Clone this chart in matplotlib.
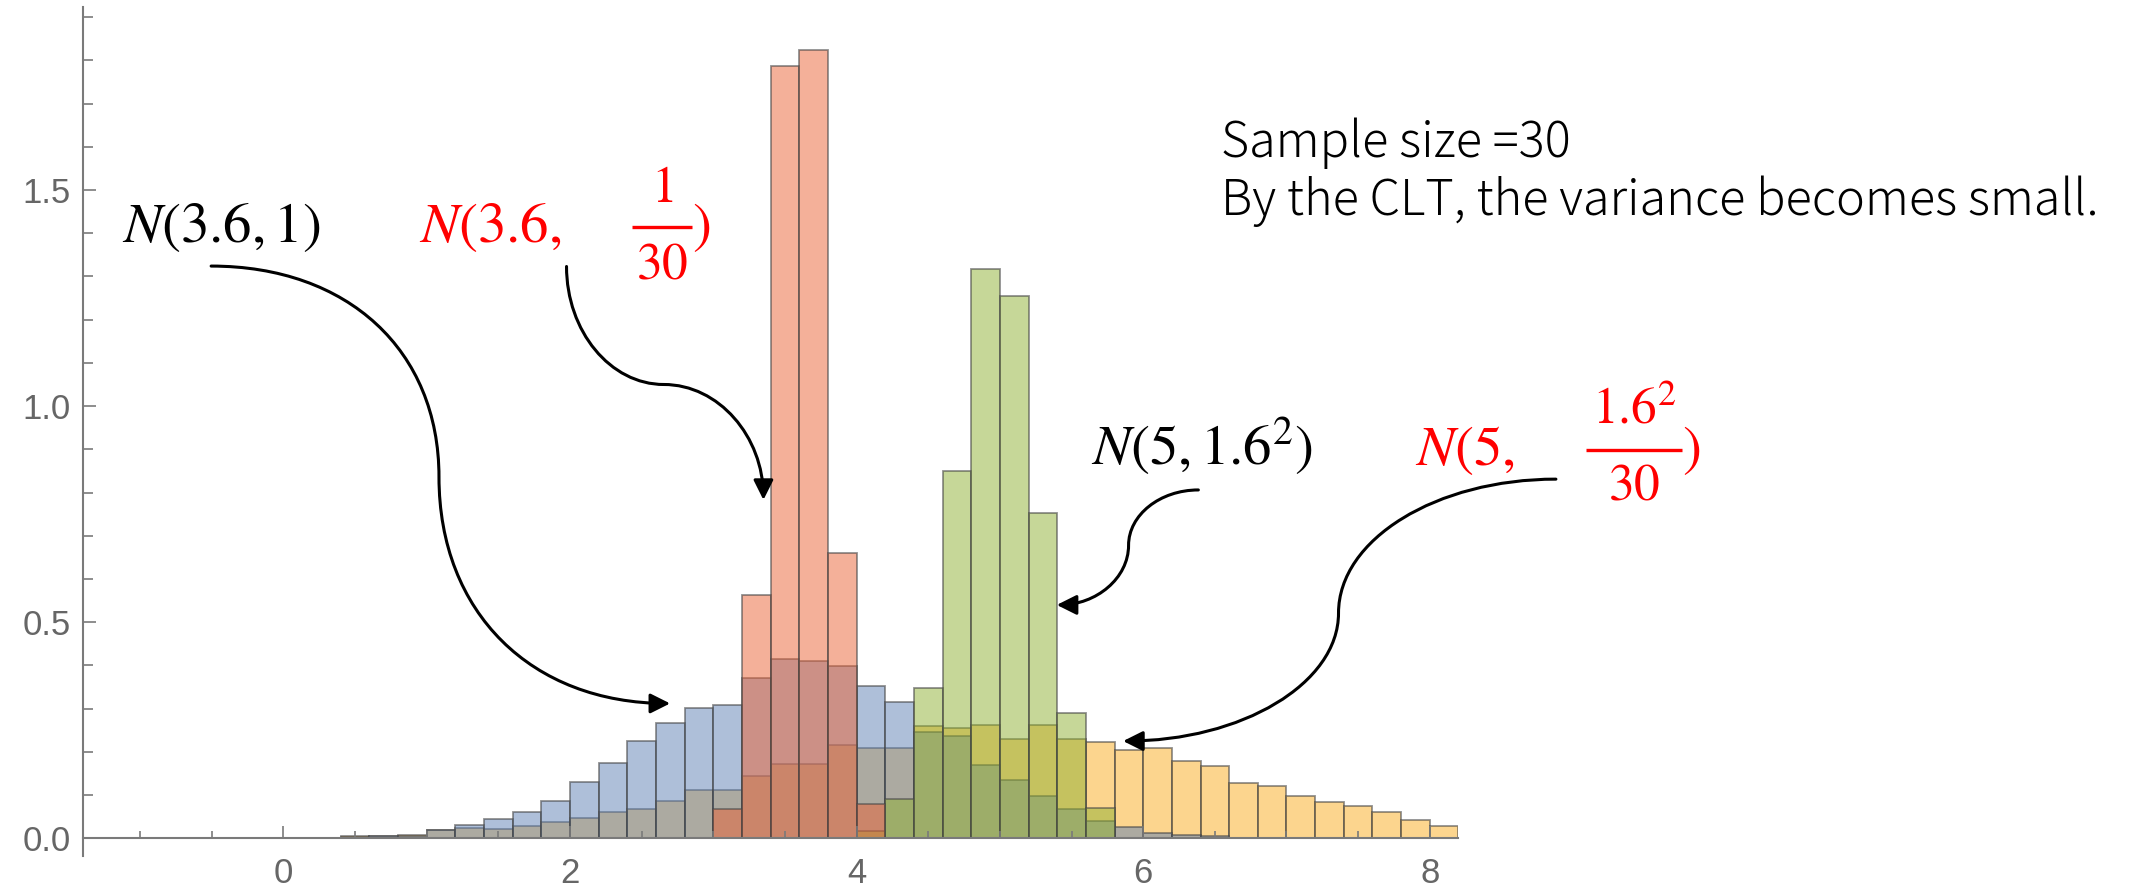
import numpy as np
import matplotlib
matplotlib.use("Agg")
import matplotlib.pyplot as plt
from matplotlib.patches import FancyArrowPatch, ArrowStyle
from matplotlib.path import Path
from matplotlib.ticker import FixedLocator

BIN = 0.2

# density histograms (bin width 0.2), heights listed from the first bin edge
yellow_start = 0.4   # N(5, 1.6^2) samples
yellow_h = [0.005, 0.006, 0.008, 0.019, 0.024, 0.021, 0.029, 0.037, 0.048, 0.060,
            0.068, 0.087, 0.111, 0.111, 0.143, 0.173, 0.173, 0.217, 0.208, 0.208,
            0.260, 0.256, 0.261, 0.230, 0.261, 0.229, 0.222, 0.205, 0.209, 0.178,
            0.167, 0.129, 0.122, 0.097, 0.085, 0.074, 0.062, 0.043, 0.029]
blue_start = 0.4     # N(3.6, 1) samples
blue_h = [0.004, 0.005, 0.006, 0.019, 0.031, 0.044, 0.062, 0.087, 0.131, 0.174,
          0.224, 0.266, 0.302, 0.309, 0.372, 0.415, 0.411, 0.398, 0.353, 0.316,
          0.245, 0.236, 0.169, 0.136, 0.098, 0.067, 0.039, 0.025, 0.012, 0.008,
          0.005]
green_start = 4.0    # sample means, n = 30
green_h = [0.016, 0.091, 0.347, 0.851, 1.317, 1.254, 0.753, 0.291, 0.070]
red_start = 3.0      # sample means, n = 30
red_h = [0.068, 0.564, 1.786, 1.824, 0.660, 0.080]

x_major = [0, 2, 4, 6, 8]
x_minor = [-1, -0.5, 0.5, 1, 1.5, 2.5, 3, 3.5, 4.5, 5, 5.5, 6.5, 7, 7.5]
y_major = [0.0, 0.5, 1.0, 1.5]
y_labels = ["0.0", "0.5", "1.0", "1.5"]
y_minor = [0.1, 0.2, 0.3, 0.4, 0.6, 0.7, 0.8, 0.9, 1.1, 1.2, 1.3, 1.4, 1.6, 1.7, 1.8, 1.9]

YELLOW = (251 / 255, 173 / 255, 31 / 255)
BLUE = (94 / 255, 129 / 255, 181 / 255)
GREEN = (143 / 255, 176 / 255, 50 / 255)
RED = (235 / 255, 98 / 255, 53 / 255)
EDGE = (0.28, 0.28, 0.28, 0.6)
AXIS = "#7a7a7a"
MAIN_FS = 41
FRAC_FS = 37

plt.rcParams["mathtext.fontset"] = "stix"

fig = plt.figure(figsize=(21.37, 8.89), dpi=100)
ax = fig.add_axes([0.03898, 0.0371, 0.6435, 0.9553])
ax.set_xlim(-1.396, 8.2)
ax.set_ylim(-0.041, 1.924)


def hist(start, heights, rgb, z):
    lefts = start + BIN * np.arange(len(heights))
    ax.bar(lefts, heights, width=BIN, align="edge", color=rgb + (0.5,),
           edgecolor=EDGE, linewidth=1.3, zorder=z)


hist(yellow_start, yellow_h, YELLOW, 1)
hist(blue_start, blue_h, BLUE, 1.1)
hist(green_start, green_h, GREEN, 1.2)
hist(red_start, red_h, RED, 1.3)

# axes: origin at (xmin, 0), ticks pointing inward
for s in ["top", "right"]:
    ax.spines[s].set_visible(False)
ax.spines["bottom"].set_position(("data", 0))
for s in ["left", "bottom"]:
    ax.spines[s].set_color(AXIS)
    ax.spines[s].set_linewidth(1.5)
    ax.spines[s].set_zorder(3)

ax.xaxis.set_major_locator(FixedLocator(x_major))
ax.xaxis.set_minor_locator(FixedLocator(x_minor))
ax.yaxis.set_major_locator(FixedLocator(y_major))
ax.yaxis.set_minor_locator(FixedLocator(y_minor))
ax.set_yticklabels(y_labels)

ax.tick_params(axis="both", which="both", direction="in", color=AXIS, width=1.2,
               labelsize=25, labelcolor="#666666")
ax.tick_params(axis="x", which="major", length=8.5, pad=13.5)
ax.tick_params(axis="x", which="minor", length=5)
ax.tick_params(axis="y", which="major", length=9.5, pad=9)
ax.tick_params(axis="y", which="minor", length=7)
for lab in ax.get_xticklabels() + ax.get_yticklabels():
    lab.set_fontfamily("Liberation Sans")


def label(x, y, s, color):
    ax.text(x, y, s, fontsize=MAIN_FS, color=color, ha="left", va="baseline",
            clip_on=False, zorder=5)


def frac_label(x, y, head, num, den, bar, bar_y, num_y, den_y, color):
    # head text, stacked fraction with its own bar, then the closing paren
    label(x, y, head, color)
    xc = 0.5 * (bar[0] + bar[1])
    ax.text(xc, num_y, num, fontsize=FRAC_FS, color=color, ha="center",
            va="baseline", clip_on=False, zorder=5)
    ax.text(xc, den_y, den, fontsize=FRAC_FS, color=color, ha="center",
            va="baseline", clip_on=False, zorder=5)
    ax.plot(bar, [bar_y, bar_y], color=color, lw=2.4, solid_capstyle="butt",
            clip_on=False, zorder=5)
    label(bar[1], y, r"$)$", color)


label(-1.128, 1.380, r"$N(3.6,1)$", "black")
label(5.637, 0.864, r"$N(5,1.6^2)$", "black")
frac_label(0.948, 1.380, r"$N(3.6,$", r"$1$", r"$30$", (2.433, 2.852),
           1.415, 1.473, 1.296, "red")
frac_label(7.898, 0.864, r"$N(5,$", r"$1.6^2$", r"$30$", (9.089, 9.759),
           0.898, 0.960, 0.783, "red")

fig.text(0.5714, 0.8231, "Sample size =30", fontsize=35, family="Noto Sans CJK JP",
         fontweight="light", ha="left", va="baseline")
fig.text(0.5714, 0.7582, "By the CLT, the variance becomes small.", fontsize=35,
         family="Noto Sans CJK JP", fontweight="light", ha="left", va="baseline")

# curved arrows (two cubic segments each) from labels to the bars
arrow_paths = [
    [(-0.504, 1.324), (0.45, 1.324), (1.086, 1.129), (1.086, 0.836),
     (1.086, 0.522), (1.731, 0.312), (2.699, 0.312)],
    [(1.976, 1.323), (1.976, 1.173), (2.282, 1.050), (2.655, 1.050),
     (3.037, 1.050), (3.350, 0.930), (3.350, 0.783)],
    [(6.385, 0.806), (6.117, 0.806), (5.898, 0.748), (5.898, 0.678),
     (5.898, 0.602), (5.673, 0.540), (5.397, 0.540)],
    [(8.880, 0.831), (8.046, 0.831), (7.363, 0.692), (7.363, 0.521),
     (7.363, 0.358), (6.687, 0.225), (5.860, 0.225)],
]
codes = [Path.MOVETO] + [Path.CURVE4] * 6
for verts in arrow_paths:
    arr = FancyArrowPatch(path=Path(verts, codes),
                          arrowstyle=ArrowStyle("-|>", head_length=0.6, head_width=0.3),
                          mutation_scale=20, lw=2.2, color="black",
                          transform=ax.transData, clip_on=False, zorder=4)
    ax.add_patch(arr)

fig.savefig("out.png", dpi=100)
